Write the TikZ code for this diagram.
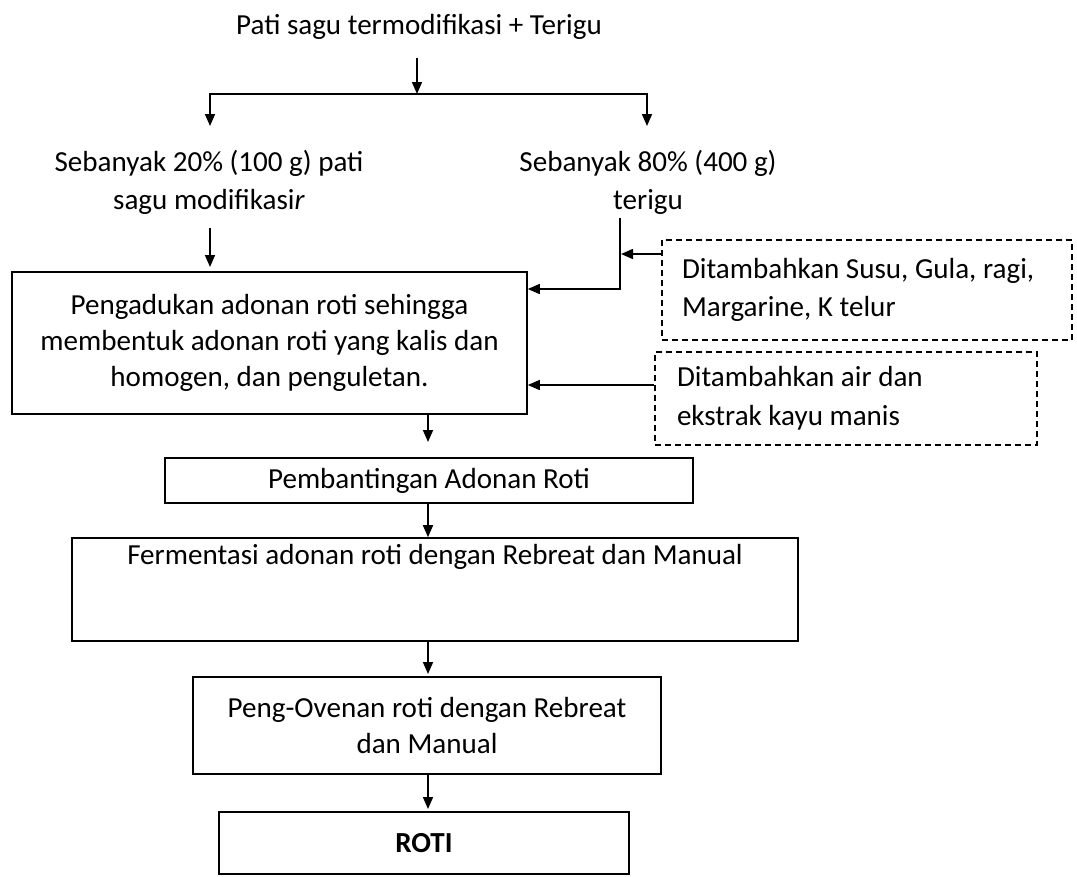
\documentclass[tikz,border=0pt]{standalone}
\usepackage{fontspec}
\setmainfont{Carlito}
\usetikzlibrary{arrows.meta,calc}
\begin{document}
\begin{tikzpicture}[x=0.75pt,y=-0.75pt,
  every node/.style={font=\fontsize{21.8}{27}\selectfont, inner sep=0pt},
  box/.style={draw, line width=1.2pt, align=center},
  dbox/.style={draw, line width=1pt, dash pattern=on 4.5pt off 3pt, align=flush left},
  arr/.style={line width=1.2pt, -{Triangle[length=9pt,width=7.5pt]}}]
\useasboundingbox (0,0) rectangle (1077,876);

\node (title) at (419,27) {Pati sagu termodifikasi + Terigu};
\node[align=center, font=\fontsize{21.8}{28.5}\selectfont] (pati) at (209,182) {Sebanyak 20\% (100 g) pati\\sagu modifikasi\textit{r}};
\node[align=center, font=\fontsize{21.8}{28.5}\selectfont] (terigu) at (648,182) {Sebanyak 80\% (400 g)\\terigu};

\node[box, minimum width=386.25pt, minimum height=106.5pt] (mix) at (269.5,343) {Pengadukan adonan roti sehingga\\membentuk adonan roti yang kalis dan\\homogen, dan penguletan.};

\node[dbox, font=\fontsize{21.8}{28}\selectfont, text width=277.5pt, inner xsep=15pt, minimum height=75pt] (add1) at (867,290) {Ditambahkan Susu, Gula, ragi,\\Margarine, K telur};
\node[dbox, font=\fontsize{21.8}{29}\selectfont, text width=253.5pt, inner xsep=16.5pt, minimum height=69.75pt] (add2) at (846,398.5) {Ditambahkan air dan\\ekstrak kayu manis};

\node[box, minimum width=396pt, minimum height=33.75pt] (pem) at (429,480.5) {Pembantingan Adonan Roti};
\node[box, minimum width=544.5pt, text height=19.5pt, text depth=57.75pt] (fer) at (435,589.5) {Fermentasi adonan roti dengan Rebreat dan Manual};
\node[box, minimum width=351pt, minimum height=72.75pt] (oven) at (427,725.5) {Peng-Ovenan roti dengan Rebreat\\dan Manual};
\node[box, minimum width=307.5pt, minimum height=46.5pt, font=\fontsize{21.8}{27}\selectfont\bfseries] (roti) at (424,843) {ROTI};

\coordinate (t1) at (417,58);
\coordinate (hc) at (417,94);
\coordinate (ld) at (210,126);
\coordinate (rd) at (647,126);
\draw[arr] (t1) -- (hc);
\draw[arr] (hc) -| (ld);
\draw[arr] (hc) -| (rd);

\coordinate (l2) at (210,228);
\coordinate (l3) at (210,267);
\draw[arr] (l2) -- (l3);

\coordinate (ts) at (620,218);
\coordinate (tc) at (620,289);
\draw[arr] (ts) -- (tc) -- (tc -| mix.east);

\coordinate (tj) at (621,254);
\draw[arr] (add1.west |- tj) -- (tj);

\coordinate (a2) at (0,385);
\draw[arr] (add2.west |- a2) -- (mix.east |- a2);

\coordinate (c1) at (428,0);
\coordinate (m1) at (428,442);
\coordinate (f1) at (428,674);
\coordinate (o1) at (428,809);
\draw[arr] (mix.south -| c1) -- (m1);
\draw[arr] (pem.south -| c1) -- (fer.north -| c1);
\draw[arr] (fer.south -| c1) -- (f1);
\draw[arr] (oven.south -| c1) -- (o1);
\end{tikzpicture}
\end{document}
